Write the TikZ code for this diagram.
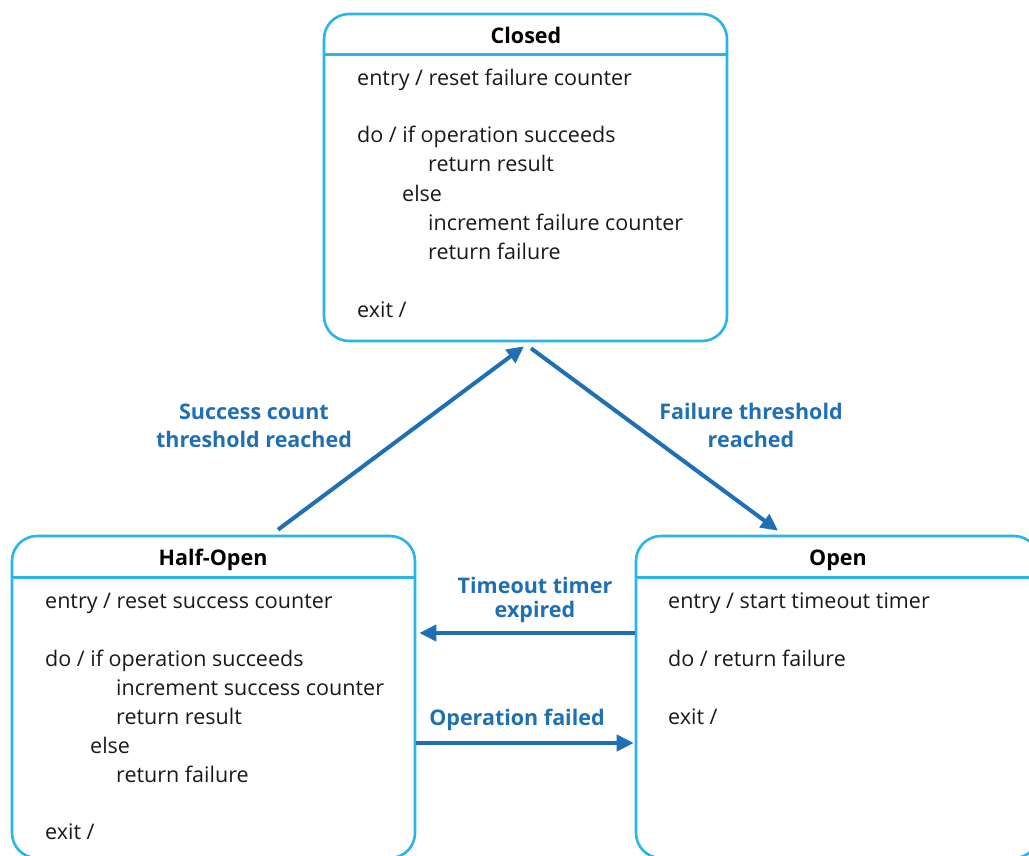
\documentclass[tikz,border=0pt]{standalone}
\usepackage{fontspec}
\setmainfont{Open Sans}
\usetikzlibrary{arrows.meta}
\definecolor{boxblue}{RGB}{41,181,232}
\definecolor{arrowblue}{RGB}{31,111,181}
\definecolor{txtgray}{RGB}{25,25,25}
\tikzset{
  statebox/.style={draw=boxblue, line width=2.6pt, rounded corners=25pt, rectangle, minimum width=403pt, inner sep=0pt},
  sep/.style={draw=boxblue, line width=2.6pt},
  txt/.style={anchor=base west, inner sep=0pt, text=txtgray, font=\fontsize{21.5}{26}\selectfont},
  ttl/.style={anchor=base, inner sep=0pt, text=black, font=\fontsize{21.5}{26}\selectfont\bfseries},
  lbl/.style={anchor=base, inner sep=0pt, text=arrowblue, align=center, font=\fontsize{21.5}{28}\selectfont\bfseries},
  trans/.style={draw=arrowblue, line width=4pt, -{Triangle[length=17pt,width=16pt]}}
}
\begin{document}
\begin{tikzpicture}[x=1pt,y=-1pt]
\useasboundingbox (0,0) rectangle (1029,856);
\clip (0,0) rectangle (1029,856);
% boxes
\node[statebox, minimum height=327pt] (closed) at (525.5,177.5) {};
\node[statebox, minimum height=322pt] (halfopen) at (213.5,697) {};
\node[statebox, minimum height=322pt] (open) at (837.5,697) {};
\draw[sep] ([yshift=-42pt]closed.north west) -- ([yshift=-42pt]closed.north east);
\draw[sep] ([yshift=-43pt]halfopen.north west) -- ([yshift=-43pt]halfopen.north east);
\draw[sep] ([yshift=-43pt]open.north west) -- ([yshift=-43pt]open.north east);
% titles
\node[ttl] (tclosed) at (526,44) {Closed};
\node[ttl] (thalf) at (213,565) {Half-Open};
\node[ttl] (topen) at (838,565) {Open};
% closed text
\node[txt] (c1) at (357,86) {entry / reset failure counter};
\node[txt] (c2) at (357,143) {do / if operation succeeds};
\node[txt] (c3) at (428,172) {return result};
\node[txt] (c4) at (402,201) {else};
\node[txt] (c5) at (428,230) {increment failure counter};
\node[txt] (c6) at (428,259) {return failure};
\node[txt] (c7) at (357,317) {exit /};
% half-open text
\node[txt] (h1) at (45,608) {entry / reset success counter};
\node[txt] (h2) at (45,666) {do / if operation succeeds};
\node[txt] (h3) at (116,695) {increment success counter};
\node[txt] (h4) at (116,724) {return result};
\node[txt] (h5) at (90,753) {else};
\node[txt] (h6) at (116,782) {return failure};
\node[txt] (h7) at (45,839) {exit /};
% open text
\node[txt] (o1) at (668,608) {entry / start timeout timer};
\node[txt] (o2) at (668,666) {do / return failure};
\node[txt] (o3) at (668,724) {exit /};
% transitions
\draw[trans] ([xshift=64.5pt,yshift=5pt]halfopen.north) -- ([xshift=-1.5pt,yshift=-4pt]closed.south);
\draw[trans] ([xshift=5.5pt,yshift=-6pt]closed.south) -- ([xshift=-59.5pt,yshift=4pt]open.north);
\draw[trans] ([yshift=64pt]open.west) -- ([xshift=3pt,yshift=64pt]halfopen.east);
\draw[trans] ([yshift=-46pt]halfopen.east) -- ([xshift=-1pt,yshift=-46pt]open.west);
% labels
\node[lbl] (l1) at (254,447) {Success count\\threshold reached};
\node[lbl] (l2) at (751,447) {Failure threshold\\reached};
\node[lbl, font=\fontsize{21.5}{24}\selectfont\bfseries] (l3) at (535,617) {Timeout timer\\expired};
\node[lbl] (l4) at (517,725) {Operation failed};
\end{tikzpicture}
\end{document}
